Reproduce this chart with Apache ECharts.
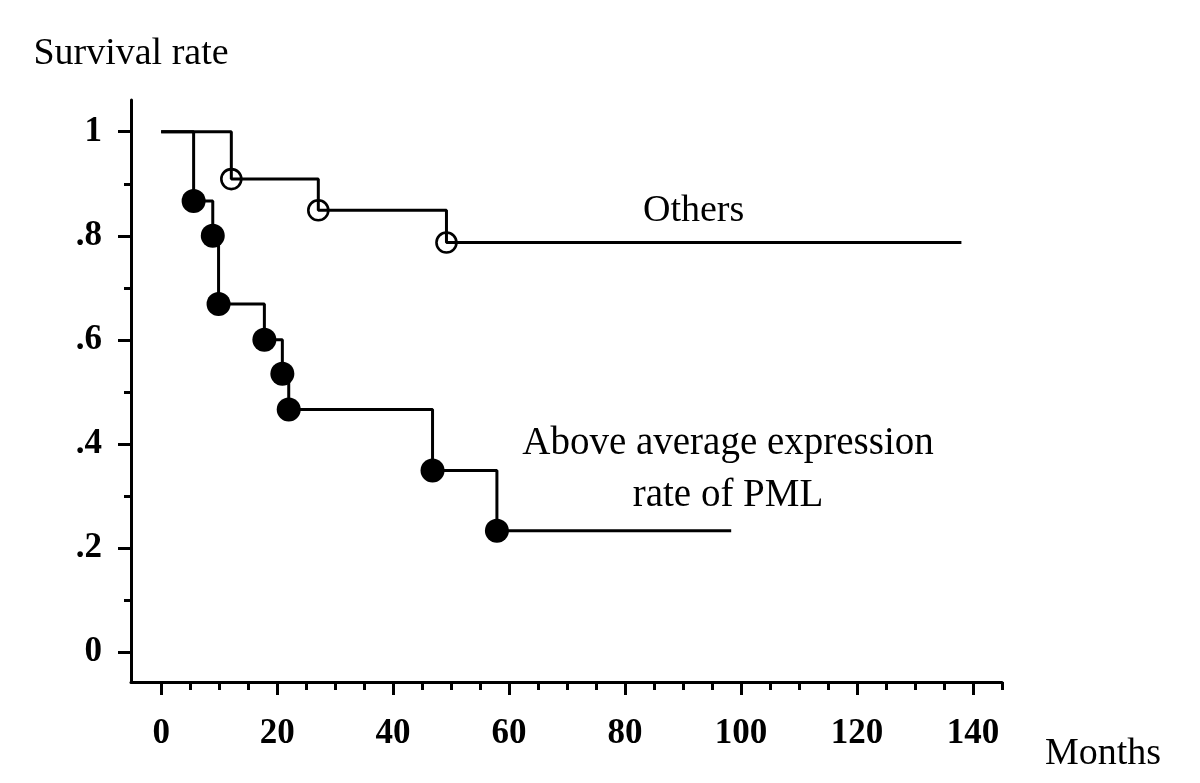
<!DOCTYPE html>
<html>
<head>
<meta charset="utf-8">
<script src="https://cdn.jsdelivr.net/npm/echarts@6/dist/echarts.min.js"></script>
<style>
html,body{margin:0;padding:0;background:#fff;}
#chart{width:1200px;height:783px;}
</style>
</head>
<body>
<div id="chart"></div>
<script>
// Kaplan-Meier data
const othersTime = [0, 12.1, 27.1, 49.2, 138.0];
const othersSurv = [1, 0.909, 0.849, 0.787, 0.787];
const pmlTime = [0, 5.6, 8.9, 9.9, 17.8, 20.9, 22.0, 46.8, 57.9, 98.3];
const pmlSurv = [1, 0.867, 0.800, 0.669, 0.600, 0.535, 0.466, 0.349, 0.233, 0.233];

const xMajorTicks = [0, 20, 40, 60, 80, 100, 120, 140];
const xMinorTicks = [5, 10, 15, 25, 30, 35, 45, 50, 55, 65, 70, 75, 85, 90, 95, 105, 110, 115, 125, 130, 135, 145];
const yMajorTicks = [0, 0.2, 0.4, 0.6, 0.8, 1];
const yMinorTicks = [0.1, 0.3, 0.5, 0.7, 0.9];

const seriesNames = ['Others', 'Above average expression rate of PML'];
const axisNames = { x: 'Months', y: 'Survival rate' };

function kmData(times, surv) {
  return times.map(function (t, i) {
    const isEdge = (i === 0 || i === times.length - 1);
    return isEdge ? { value: [t, surv[i]], symbol: 'none' } : { value: [t, surv[i]] };
  });
}

const SERIF = '"Liberation Serif", "Times New Roman", serif';
const LW = 3;

const chart = echarts.init(document.getElementById('chart'), null, { renderer: 'canvas' });

const option = {
  backgroundColor: '#ffffff',
  animation: false,
  grid: { left: 131, right: 198, top: 100, bottom: 101, containLabel: false, outerBoundsMode: 'none' },
  xAxis: [
    {
      type: 'value', min: -5.2, max: 145, position: 'bottom',
      name: axisNames.x, nameLocation: 'end', nameGap: 43,
      nameTextStyle: { fontFamily: SERIF, fontSize: 38, color: '#000', align: 'left', verticalAlign: 'top', lineHeight: 40, padding: [52, 0, 0, 0] },
      axisLine: { show: true, onZero: false, lineStyle: { color: '#000', width: LW } },
      axisTick: { show: true, customValues: xMajorTicks, length: 13, lineStyle: { color: '#000', width: LW } },
      axisLabel: { show: true, customValues: xMajorTicks, margin: 34, fontFamily: SERIF, fontSize: 35, fontWeight: 'bold', color: '#000' },
      splitLine: { show: false }
    },
    {
      type: 'value', min: -5.2, max: 145, position: 'bottom', offset: 0,
      axisLine: { show: false, onZero: false },
      axisTick: { show: true, customValues: xMinorTicks, length: 8, lineStyle: { color: '#000', width: LW } },
      axisLabel: { show: false },
      splitLine: { show: false }
    }
  ],
  yAxis: [
    {
      type: 'value', min: -0.0577, max: 1.061, position: 'left',
      name: axisNames.y, nameLocation: 'end', nameGap: 27,
      nameTextStyle: { fontFamily: SERIF, fontSize: 38, color: '#000', align: 'center' },
      axisLine: { show: true, onZero: false, lineStyle: { color: '#000', width: LW } },
      axisTick: { show: true, customValues: yMajorTicks, length: 13, lineStyle: { color: '#000', width: LW } },
      axisLabel: {
        show: true, customValues: yMajorTicks, margin: 29, fontFamily: SERIF, fontSize: 35, fontWeight: 'bold', color: '#000',
        formatter: function (v) {
          if (Math.abs(v) < 1e-9) return '0';
          if (Math.abs(v - 1) < 1e-9) return '1';
          return '.' + Math.round(v * 10);
        }
      },
      splitLine: { show: false }
    },
    {
      type: 'value', min: -0.0577, max: 1.061, position: 'left', offset: 0,
      axisLine: { show: false, onZero: false },
      axisTick: { show: true, customValues: yMinorTicks, length: 7, lineStyle: { color: '#000', width: LW } },
      axisLabel: { show: false },
      splitLine: { show: false }
    }
  ],
  series: [
    {
      name: seriesNames[0], type: 'line', step: 'end', xAxisIndex: 0, yAxisIndex: 0,
      data: kmData(othersTime, othersSurv),
      symbol: 'circle', symbolSize: 20, showSymbol: true,
      lineStyle: { color: '#000', width: LW },
      itemStyle: { color: 'rgba(255,255,255,0)', borderColor: '#000', borderWidth: 2.6 },
      z: 3
    },
    {
      name: seriesNames[1], type: 'line', step: 'end', xAxisIndex: 0, yAxisIndex: 0,
      data: kmData(pmlTime, pmlSurv),
      symbol: 'circle', symbolSize: 24, showSymbol: true,
      lineStyle: { color: '#000', width: LW },
      itemStyle: { color: '#000', borderColor: '#000', borderWidth: 0 },
      z: 3
    }
  ],
  graphic: [
    {
      type: 'text', x: 643, y: 211,
      style: { text: 'Others', fontFamily: SERIF, fontSize: 38, fill: '#000', align: 'left', verticalAlign: 'middle' }
    },
    {
      type: 'text', x: 728, y: 470,
      style: { text: 'Above average expression\nrate of PML', fontFamily: SERIF, fontSize: 39, lineHeight: 52, fill: '#000', align: 'center', verticalAlign: 'middle' }
    }
  ]
};

chart.setOption(option);
</script>
</body>
</html>
